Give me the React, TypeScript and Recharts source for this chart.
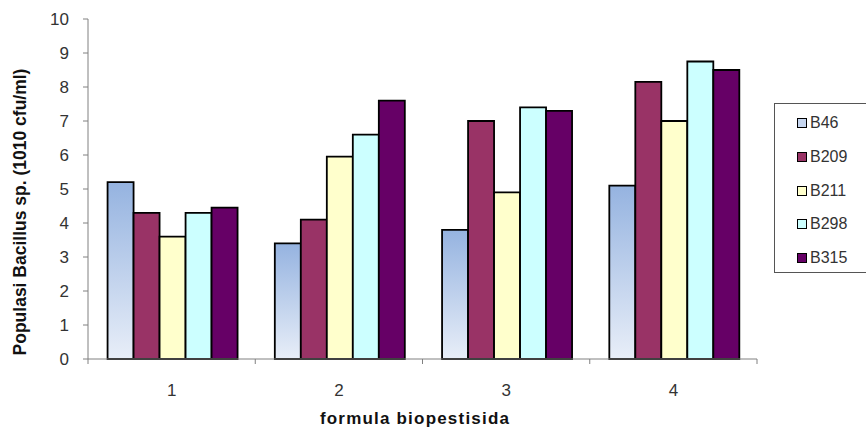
import { BarChart, Bar, XAxis, YAxis } from 'recharts';

const categories = ['1', '2', '3', '4'];
const seriesNames = ['B46', 'B209', 'B211', 'B298', 'B315'];
const b46 = [5.2, 3.4, 3.8, 5.1];
const b209 = [4.3, 4.1, 7.0, 8.15];
const b211 = [3.6, 5.95, 4.9, 7.0];
const b298 = [4.3, 6.6, 7.4, 8.75];
const b315 = [4.45, 7.6, 7.3, 8.5];
const yTicks = [0, 1, 2, 3, 4, 5, 6, 7, 8, 9, 10];

const COLORS = ['url(#b46grad)', '#993366', '#ffffcc', '#ccffff', '#660066'];
const LEGEND_COLORS = ['#c6d6f0', '#993366', '#ffffcc', '#ccffff', '#660066'];

const data = categories.map((c, i) => ({
    name: c,
    B46: b46[i],
    B209: b209[i],
    B211: b211[i],
    B298: b298[i],
    B315: b315[i],
}));

const FONT = 'Arial, "Liberation Sans", sans-serif';

function CatTick(props: any) {
    const { x, y, payload, index } = props;
    const off = payload?.offset ?? 0;
    return (
        <g>
            <line x1={x - off} x2={x - off} y1={y} y2={y + 5} stroke="#808080" strokeWidth={1} />
            {index === categories.length - 1 && (
                <line x1={x + off} x2={x + off} y1={y} y2={y + 5} stroke="#808080" strokeWidth={1} />
            )}
            <text x={x} y={y + 37} textAnchor="middle" fontSize={17} fill="#333" fontFamily={FONT}>{payload.value}</text>
        </g>
    );
}

export default function App() {
    return (
        <div style={{ position: 'absolute', left: 0, top: 0, width: 866, height: 430, background: '#fff', fontFamily: FONT, overflow: 'hidden' }}>
            <BarChart width={866} height={430} data={data} margin={{ top: 19, right: 109, bottom: 31, left: 28 }}
                barCategoryGap="11.7%" barGap={0}>
                <defs>
                    <linearGradient id="b46grad" x1="0" y1="0" x2="0" y2="1">
                        <stop offset="0%" stopColor="#95b3e0" />
                        <stop offset="100%" stopColor="#e8eef8" />
                    </linearGradient>
                </defs>
                <XAxis dataKey="name" height={40} axisLine={{ stroke: '#808080' }} tickLine={false} tickSize={0} tickMargin={0}
                    tick={<CatTick />} interval={0} />
                <YAxis width={60} domain={[0, 10]} ticks={yTicks} interval={0} tickSize={5} tickMargin={14}
                    axisLine={{ stroke: '#808080' }} tickLine={{ stroke: '#808080' }}
                    tick={{ fontSize: 17, fill: '#333', fontFamily: FONT }} />
                {seriesNames.map((s, i) => (
                    <Bar key={s} dataKey={s} fill={COLORS[i]} stroke="#000" strokeWidth={1.8} isAnimationActive={false} />
                ))}
            </BarChart>
            <div style={{ position: 'absolute', left: 20, top: 212, width: 0, height: 0 }}>
                <div style={{ position: 'absolute', left: -200, top: -11, width: 400, textAlign: 'center', transform: 'rotate(-90deg)', fontSize: 17.5, fontWeight: 'bold', color: '#111', whiteSpace: 'nowrap', lineHeight: '22px' }}>
                    Populasi Bacillus sp. (1010 cfu/ml)
                </div>
            </div>
            <div style={{ position: 'absolute', left: 215, top: 409, width: 400, textAlign: 'center', fontSize: 17, fontWeight: 'bold', letterSpacing: 1.2, color: '#111', lineHeight: '20px', whiteSpace: 'nowrap' }}>
                formula biopestisida
            </div>
            <div style={{ position: 'absolute', left: 774, top: 103, width: 92, height: 170, borderLeft: '1px solid #555', borderTop: '1px solid #555', borderBottom: '1px solid #555', boxSizing: 'border-box' }}>
                {seriesNames.map((s, i) => (
                    <div key={s} style={{ position: 'absolute', left: 22, top: 9 + i * 33.8, height: 20, display: 'flex', alignItems: 'center' }}>
                        <span style={{ width: 8, height: 8, border: '1.5px solid #000', background: LEGEND_COLORS[i], display: 'inline-block', marginRight: 3 }} />
                        <span style={{ fontSize: 16, color: '#333' }}>{s}</span>
                    </div>
                ))}
            </div>
        </div>
    );
}
